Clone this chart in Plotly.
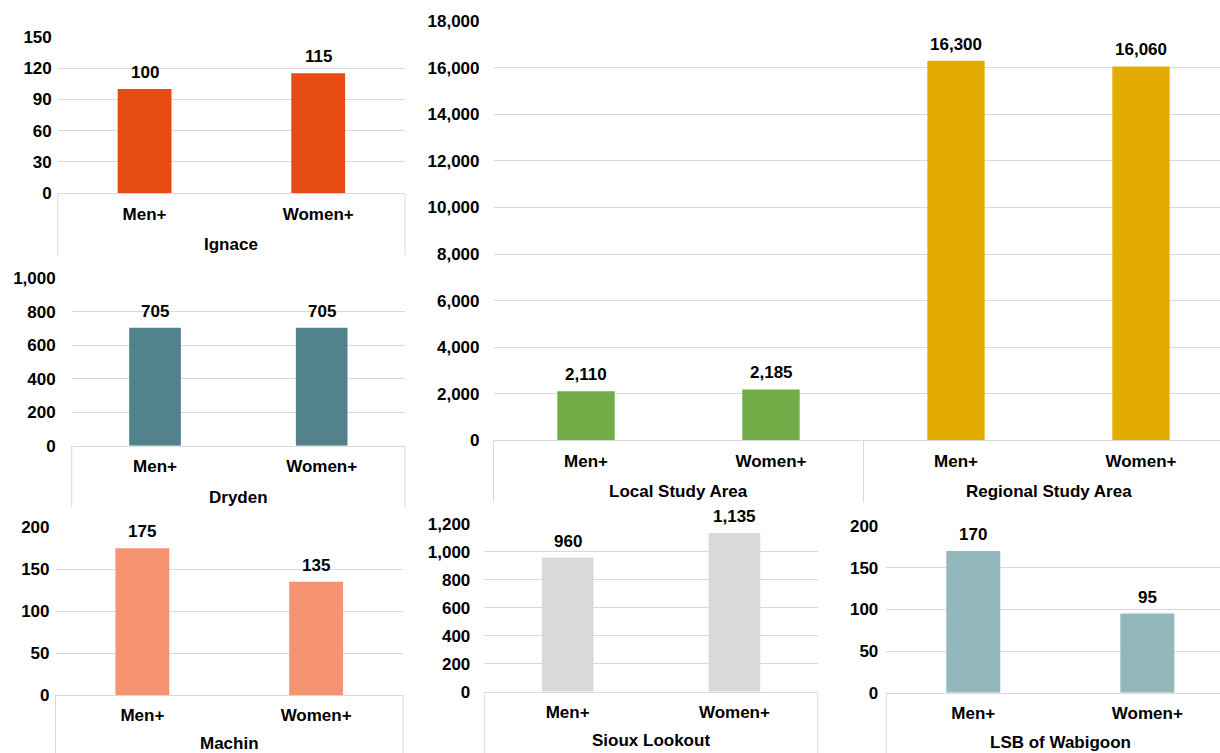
import plotly.graph_objects as go

# ---------------- data ----------------
sexes = ["Men+", "Women+"]
ignace = [100, 115]
dryden = [705, 705]
machin = [175, 135]
study_groups = ["Local Study Area", "Regional Study Area"]
local_area = [2110, 2185]
regional_area = [16300, 16060]
sioux_lookout = [960, 1135]
lsb_wabigoon = [170, 95]

# ---------------- styling / layout constants ----------------
W, H = 1220, 753
FONT = "Liberation Sans, Arial, sans-serif"
FS = 17
GRID = "#d9d9d9"


def xd(a, b):
    return [a / W, b / W]


def yd(top, bottom):
    return [1 - bottom / H, 1 - top / H]


def py(p):
    return 1 - p / H


panel4_x = [f"{g}|{s}" for g in study_groups for s in sexes]
panel4_y = local_area + regional_area
panel4_c = ["#70AD47"] * 2 + ["#E2AC00"] * 2

panels = [
    dict(x=sexes, y=ignace, color="#E54B12", xpx=(57.75, 405), ypx=(36.7, 193.3),
         ymax=150, dtick=30, xr=[-0.5, 1.5], ystand=5, groups=["Ignace"], gy=[245], box=255,
         lines=["l", "r"]),
    dict(x=sexes, y=dryden, color="#52828C", xpx=(71.7, 405), ypx=(278.3, 445.7),
         ymax=1000, dtick=200, xr=[-0.5, 1.5], ystand=15, groups=["Dryden"], gy=[497], box=507,
         lines=["l", "r"]),
    dict(x=sexes, y=machin, color="#F69370", xpx=(55.5, 403), ypx=(527.3, 695),
         ymax=200, dtick=50, xr=[-0.5, 1.5], ystand=5, groups=["Machin"], gy=[743], box=753,
         lines=["l", "r"]),
    dict(x=panel4_x, y=panel4_y, color=panel4_c, xpx=(493.5, 1220), ypx=(21.3, 440.3),
         ymax=18000, dtick=2000, xr=[-0.5, (1220 - 493.5) / 185 - 0.5], ystand=13,
         groups=study_groups, gy=[491, 491], box=502, lines=["l", "sep"],
         ticktext=sexes * 2),
    dict(x=sexes, y=sioux_lookout, color="#D9D9D9", xpx=(484.3, 817.8), ypx=(524, 691.7),
         ymax=1200, dtick=200, xr=[-0.5, 1.5], ystand=13, groups=["Sioux Lookout"], gy=[740],
         box=753, lines=["l", "r"]),
    dict(x=sexes, y=lsb_wabigoon, color="#92B8BE", xpx=(886.3, 1220), ypx=(526, 692.7),
         ymax=200, dtick=50, xr=[-0.5, (1220 - 886.3) / 174 - 0.5], ystand=7,
         groups=["LSB of Wabigoon"], gy=[742], box=753, lines=["l"]),
]

bold = dict(family=FONT, size=FS, color="#000000", weight="bold")

fig = go.Figure()
shapes = []
annotations = []
layout_axes = {}

for i, p in enumerate(panels, start=1):
    sfx = "" if i == 1 else str(i)
    xa, ya = f"x{sfx}", f"y{sfx}"
    fig.add_trace(go.Bar(
        x=p["x"], y=p["y"], xaxis=xa, yaxis=ya,
        marker=dict(color=p["color"], line=dict(width=0)),
        width=0.31, cliponaxis=False,
        showlegend=False, hoverinfo="skip",
    ))
    # data labels
    for cx, cy in zip(p["x"], p["y"]):
        annotations.append(dict(
            text=f"{cy:,}", xref=xa, yref=ya, x=cx, y=cy,
            xanchor="center", yanchor="bottom", yshift=5, showarrow=False,
            font=bold,
        ))
    xaxis = dict(
        domain=xd(*p["xpx"]), anchor=ya, type="category", range=p["xr"],
        showline=True, linecolor=GRID, linewidth=1, showgrid=False, zeroline=False,
        ticks="", ticklabelstandoff=5, fixedrange=True, automargin=False,
        tickfont=bold,
    )
    if "ticktext" in p:
        xaxis["tickvals"] = p["x"]
        xaxis["ticktext"] = p["ticktext"]
    layout_axes[f"xaxis{sfx}"] = xaxis
    layout_axes[f"yaxis{sfx}"] = dict(
        domain=yd(*p["ypx"]), anchor=xa, range=[0, p["ymax"]], dtick=p["dtick"],
        tickformat=",", showgrid=True, gridcolor=GRID, gridwidth=1, zeroline=False,
        showline=False, ticks="", ticklabelstandoff=p["ystand"], fixedrange=True,
        automargin=False, tickfont=bold,
    )
    # category box lines
    top_py = p["ypx"][1]
    for ln in p["lines"]:
        if ln in ("l", "r"):
            xp = p["xpx"][0] if ln == "l" else p["xpx"][1]
            shapes.append(dict(type="line", xref="paper", yref="paper",
                               x0=xp / W, x1=xp / W,
                               y0=py(top_py), y1=py(p["box"]),
                               line=dict(color=GRID, width=1)))
        elif ln == "sep":
            shapes.append(dict(type="line", xref=xa, yref="paper",
                               x0=1.5, x1=1.5,
                               y0=py(top_py), y1=py(p["box"]),
                               line=dict(color=GRID, width=1)))
    for gi, (g, gyp) in enumerate(zip(p["groups"], p["gy"])):
        annotations.append(dict(
            text=g, xref=xa, yref="paper", x=gi * 2 + 0.5, y=py(gyp),
            xanchor="center", yanchor="middle", showarrow=False,
            font=bold, borderpad=0,
        ))

fig.update_layout(
    width=W, height=H, autosize=False,
    margin=dict(l=0, r=0, t=0, b=0, pad=0, autoexpand=False),
    paper_bgcolor="white", plot_bgcolor="white",
    barmode="overlay",
    font=dict(family=FONT, size=FS, color="#000000"),
    shapes=shapes, annotations=annotations,
    **layout_axes,
)

fig.write_html("out.html")
